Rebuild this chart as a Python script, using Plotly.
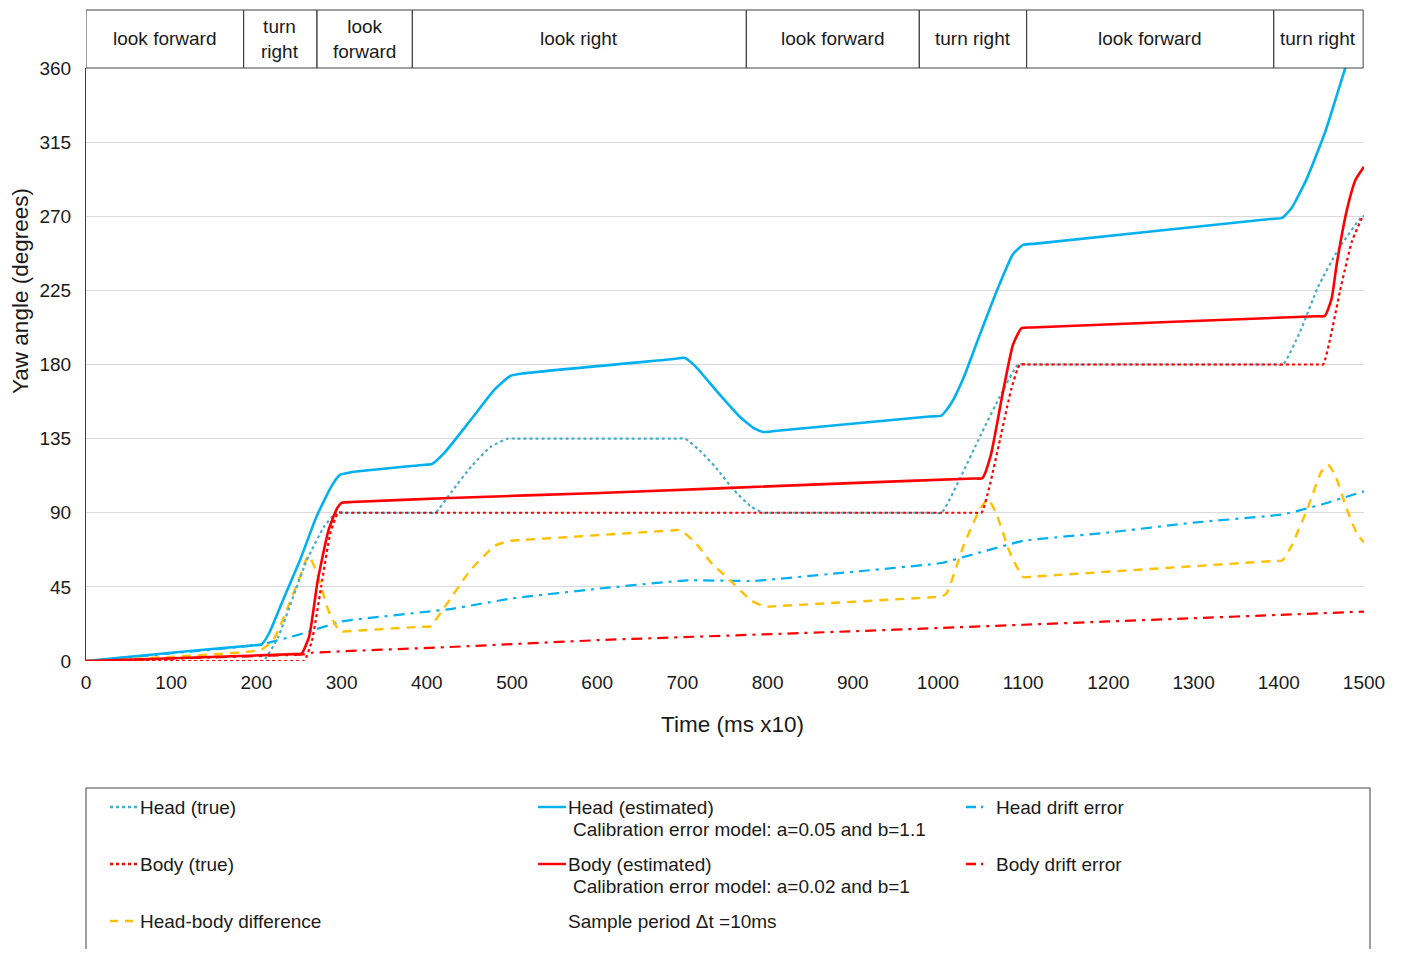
import plotly.graph_objects as go

# ---------------- data (time in ms x10, yaw angle in degrees) ----------------
head_true_t = [0, 200, 208, 225, 259, 280, 294, 302, 400, 410, 428, 452, 475, 495, 505, 690, 703, 720, 740,
               760, 780, 795, 805, 990, 1004, 1025, 1050, 1075, 1094, 1104, 1395, 1405, 1425, 1446, 1470,
               1498, 1500]
head_true_v = [0, 0, 0, 14, 61, 82, 90, 90, 90, 90, 102, 118, 130, 135, 135, 135, 135, 128, 117,
               104, 94, 90, 90, 90, 90, 110, 137, 163, 180, 180, 180, 180, 200, 227, 250,
               270, 270]

body_true_t = [0, 248, 256, 265, 276, 287, 296, 304, 1043, 1051, 1060, 1073, 1086, 1096, 1104,
               1444, 1452, 1460, 1472, 1486, 1499, 1500]
body_true_v = [0, 0, 0, 12, 45, 78, 90, 90, 90, 90, 105, 135, 165, 180, 180,
               180, 180, 195, 225, 255, 270, 270]

head_est_t = [0, 100, 198, 206, 215, 232, 251, 270, 288, 298, 310, 395, 406, 420, 451, 480, 498, 512,
              690, 703, 715, 740, 768, 785, 795, 808, 990, 1004, 1015, 1030, 1049, 1070, 1088, 1100, 1115,
              1390, 1404, 1415, 1433, 1455, 1478, 1500]
head_est_v = [0, 5, 9.6, 10, 17, 38, 61, 87, 106, 113, 114.5, 119, 119.6, 126, 146, 165, 173, 174.5,
              183.3, 184, 179, 164, 148, 141, 139, 139.6, 148.4, 149, 156, 172, 198, 226, 247, 252.6, 253.4,
              268.3, 269, 275, 293, 322, 360, 396]

body_est_t = [0, 120, 245, 253, 262, 272, 285, 295, 300, 312, 427, 603, 897, 1042, 1052, 1062, 1075, 1088,
              1098, 1110, 1444, 1454, 1462, 1468, 1480, 1490, 1500]
body_est_v = [0, 2, 4.2, 4.5, 15, 49, 80, 93, 96, 96.5, 99, 102, 108, 110.8, 111, 125, 160, 192,
              202, 202.5, 209.3, 209.5, 220, 241, 274, 292, 300]

diff_t = [0, 100, 206, 220, 231, 251, 261, 270, 285, 298, 310, 394, 404, 420, 451, 480, 498, 510, 687, 697,
          715, 733, 760, 780, 797, 810, 993, 1003, 1010, 1030, 1050, 1059, 1068, 1085, 1100, 1112,
          1394, 1404, 1415, 1434, 1450, 1458, 1466, 1480, 1492, 1500]
diff_v = [0, 2.5, 7, 13, 25, 51, 64, 55, 30, 18, 18.2, 20.8, 21, 32, 55, 70, 73, 73.4, 79.2, 79.5,
          72, 60, 47, 37, 33, 33.3, 38.7, 39, 41, 70, 93, 98, 90, 65, 51, 51.3,
          60.7, 61, 70, 93, 115, 119, 113, 92, 77, 72]

head_drift_t = [0, 205, 250, 300, 427, 500, 603, 705, 783, 897, 1004, 1050, 1100, 1200, 1300, 1405, 1450, 1500]
head_drift_v = [0, 10, 16, 24, 31.5, 38, 44, 49, 48.6, 54, 59.5, 66, 73, 78, 84, 89, 95, 103]

body_drift_t = [0, 255, 265, 427, 603, 897, 1000, 1100, 1200, 1300, 1400, 1500]
body_drift_v = [0, 4, 5, 8.5, 12.7, 18, 20, 22, 24, 26, 28, 30]

section_labels = ["look forward", "turn<br>right", "look<br>forward", "look right",
                  "look forward", "turn right", "look forward", "turn right"]
section_edges = [0, 185, 271, 383, 775, 978, 1104, 1394, 1499]

x_ticks = list(range(0, 1501, 100))
y_ticks = list(range(0, 361, 45))

# ---------------- styling ----------------
C_HEAD = "#00B0F0"
C_HEAD_TRUE = "#4BACC6"
C_BODY = "#FF0000"
C_DIFF = "#FFC000"
DASHDOT = "11px,6px,3px,6px"
FONT = "Liberation Sans, Arial, sans-serif"
TXT = "#1a1a1a"
FS = 19

PAGE = 8  # default body margin of the html page
W, H = 1401 - 2 * PAGE, 957 - 2 * PAGE
L, R, T, B = 86, 1364, 68, 661  # plot area in screenshot pixels


def px_x(p):
    return (p - L) / (R - L)


def px_y(p):
    return (B - p) / (B - T)


fig = go.Figure()


def add(t, v, color, dash, width, smooth=0.5):
    fig.add_trace(go.Scatter(
        x=t, y=v, mode="lines", showlegend=False, hoverinfo="skip",
        line=dict(color=color, dash=dash, width=width, shape="spline", smoothing=smooth)))


add(body_drift_t, body_drift_v, C_BODY, DASHDOT, 2.2, 0.3)
add(head_drift_t, head_drift_v, C_HEAD, DASHDOT, 2.2, 0.3)
add(diff_t, diff_v, C_DIFF, "9px,7px", 2.4)
add(head_true_t, head_true_v, C_HEAD_TRUE, "dot", 2.2)
add(body_true_t, body_true_v, C_BODY, "dot", 2.2)
add(head_est_t, head_est_v, C_HEAD, "solid", 2.6)
add(body_est_t, body_est_v, C_BODY, "solid", 2.6)

shapes = []
annotations = []

# header boxes
hdr_top = px_y(10)
for i, lab in enumerate(section_labels):
    x0, x1 = section_edges[i], section_edges[i + 1]
    shapes.append(dict(type="rect", xref="x", yref="paper", x0=x0, x1=x1, y0=1, y1=hdr_top,
                       line=dict(color="#404040", width=1), fillcolor="rgba(0,0,0,0)"))
    annotations.append(dict(x=(x0 + x1) / 2, y=px_y(39), xref="x", yref="paper", text=lab,
                            showarrow=False, font=dict(size=FS, color=TXT, family=FONT),
                            xanchor="center", yanchor="middle"))

# legend box
shapes.append(dict(type="rect", xref="paper", yref="paper", x0=0, x1=px_x(1370),
                   y0=px_y(788), y1=px_y(1000), line=dict(color="#404040", width=1),
                   fillcolor="rgba(0,0,0,0)"))

legend_items = [
    (110, 137, 807, C_HEAD_TRUE, "dot", "Head (true)", 138),
    (538, 566, 807, C_HEAD, "solid", "Head (estimated)", 566),
    (966, 988, 807, C_HEAD, "10px,5px,2px,5px", "Head drift error", 994),
    (110, 137, 864, C_BODY, "dot", "Body (true)", 138),
    (538, 566, 864, C_BODY, "solid", "Body (estimated)", 566),
    (966, 988, 864, C_BODY, "10px,5px,2px,5px", "Body drift error", 994),
    (110, 137, 921, C_DIFF, "8px,7px", "Head-body difference", 138),
]
for x0, x1, yy, col, dash, txt, tx in legend_items:
    shapes.append(dict(type="line", xref="paper", yref="paper", x0=px_x(x0), x1=px_x(x1),
                       y0=px_y(yy), y1=px_y(yy), line=dict(color=col, width=2.4, dash=dash)))
    annotations.append(dict(x=px_x(tx), y=px_y(yy), xref="paper", yref="paper", text=txt,
                            showarrow=False, xanchor="left", yanchor="middle",
                            font=dict(size=FS, color=TXT, family=FONT)))

extra_texts = [
    (571, 829, "Calibration error model: a=0.05 and b=1.1"),
    (571, 886, "Calibration error model: a=0.02 and b=1"),
    (566, 921, "Sample period \u0394t =10ms"),
]
for tx, yy, txt in extra_texts:
    annotations.append(dict(x=px_x(tx), y=px_y(yy), xref="paper", yref="paper", text=txt,
                            showarrow=False, xanchor="left", yanchor="middle",
                            font=dict(size=FS, color=TXT, family=FONT)))

# axis titles
annotations.append(dict(x=px_x(732), y=px_y(725), xref="paper", yref="paper", text="Time (ms x10)",
                        showarrow=False, xanchor="center", yanchor="middle",
                        font=dict(size=22.5, color=TXT, family=FONT)))
annotations.append(dict(x=px_x(20), y=px_y(291), xref="paper", yref="paper", text="Yaw angle (degrees)",
                        showarrow=False, xanchor="center", yanchor="middle", textangle=-90,
                        font=dict(size=22.5, color=TXT, family=FONT)))

fig.update_layout(
    width=W, height=H,
    margin=dict(l=L - PAGE, r=W - (R - PAGE), t=T - PAGE, b=H - (B - PAGE)),
    paper_bgcolor="white", plot_bgcolor="white",
    font=dict(family=FONT, size=FS, color=TXT),
    shapes=shapes, annotations=annotations,
    showlegend=False,
)
fig.update_xaxes(range=[0, 1500], tickvals=x_ticks, showgrid=False, zeroline=False,
                 showline=False, ticks="", ticklabelstandoff=8, automargin=False,
                 tickfont=dict(size=FS, family=FONT, color=TXT))
fig.update_yaxes(range=[0, 360], tickvals=y_ticks, showgrid=True, gridcolor="#d9d9d9", gridwidth=1,
                 zeroline=False, showline=True, linecolor="#404040", linewidth=1, ticks="",
                 ticklabelstandoff=10, automargin=False,
                 tickfont=dict(size=FS, family=FONT, color=TXT))

fig.write_html("out.html")
